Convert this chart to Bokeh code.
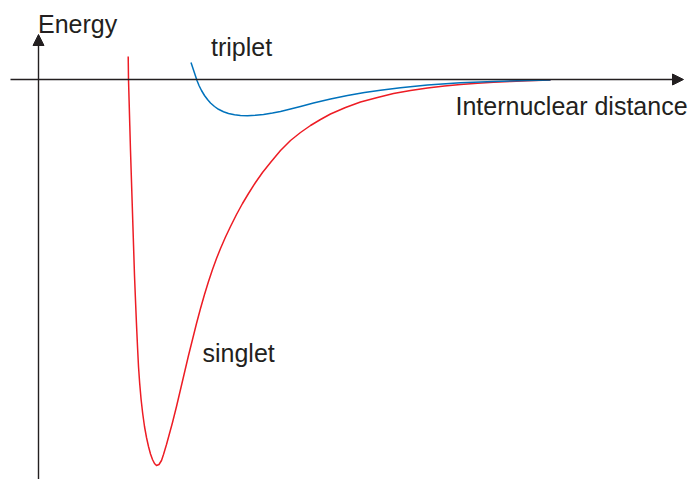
from bokeh.plotting import figure
from bokeh.models import Arrow, NormalHead, Range1d, Label
from bokeh.embed import file_html
from bokeh.resources import INLINE

# Potential energy curves, traced as (x, y) positions on the 691x479 sheet
singlet_px = [
    (127.7, 56), (128, 79), (128.6, 100), (129.3, 125), (130, 150), (130.8, 175),
    (131.6, 200), (132.4, 225), (133.2, 250), (134, 275), (135, 300), (136, 324),
    (137, 346), (138, 366), (139.2, 383), (140.6, 399), (142.2, 413), (144, 426),
    (146, 437), (148, 446), (150, 453.5), (152, 459), (154, 463), (156, 465),
    (158.5, 464), (161, 460), (163, 454), (166, 444), (169, 433), (172, 422),
    (176, 406), (180, 389), (184, 372), (188, 355), (192, 339), (196, 323),
    (200, 308), (204, 294), (208, 281), (212, 269), (216, 258), (220, 248),
    (225, 236.5), (230, 226), (236, 214), (242, 203), (248, 193), (255, 182),
    (262, 172), (270, 162), (280, 150), (290, 140), (300, 132), (310, 125),
    (320, 119), (330, 113.5), (345, 107), (360, 101.5), (377, 97), (393, 93),
    (410, 90), (427, 87.5), (444, 85.5), (460, 84), (477, 82.8), (493, 81.8),
    (510, 81), (527, 80.3), (550, 79.5),
]
triplet_px = [
    (190.5, 62), (192.5, 68), (194.5, 74), (196.5, 80), (198.5, 85), (201, 90),
    (204, 95), (207, 99), (210, 102.5), (214, 106), (218, 108.8), (223, 111.2),
    (228, 113), (234, 114.3), (240, 115), (247, 115.2), (255, 114.8), (263, 114),
    (272, 112.6), (280, 111), (290, 108.6), (300, 106), (313, 102.6), (330, 98.5),
    (347, 95), (364, 92), (380, 89.8), (400, 87.3), (427, 84.5), (460, 82.2),
    (493, 80.9), (527, 80), (550, 79.5),
]

X0, Y0 = 38, 79  # origin of the diagram
singlet_r = [x - X0 for x, _ in singlet_px]
singlet_e = [Y0 - y for _, y in singlet_px]
triplet_r = [x - X0 for x, _ in triplet_px]
triplet_e = [Y0 - y for _, y in triplet_px]

W, H = 691, 479
p = figure(width=W, height=H, output_backend="svg", toolbar_location=None,
           x_range=Range1d(-X0, W - X0), y_range=Range1d(Y0 - H, Y0),
           min_border=0, outline_line_color=None)
p.axis.visible = False
p.grid.visible = False
p.background_fill_color = "white"
p.border_fill_color = "white"

ink = "#231f20"

# axes with arrow heads
p.add_layout(Arrow(x_start=-28, y_start=0, x_end=645, y_end=0,
                   line_color=ink, line_width=1.4,
                   end=NormalHead(size=11, fill_color=ink, line_color=ink, line_width=1)))
p.add_layout(Arrow(x_start=0, y_start=Y0 - H - 2, x_end=0, y_end=45,
                   line_color=ink, line_width=1.4,
                   end=NormalHead(size=11, fill_color=ink, line_color=ink, line_width=1)))

p.line(singlet_r, singlet_e, line_color="#ed1c24", line_width=1.5, line_join="round")
p.line(triplet_r, triplet_e, line_color="#0072bc", line_width=1.5, line_join="round")

labels = [
    ("Energy", -0.5, 55.5),
    ("triplet", 172.5, 32.5),
    ("Internuclear distance", 417, -26.5),
    ("singlet", 164, -273),
]
for txt, lx, ly in labels:
    p.add_layout(Label(x=lx, y=ly, text=txt, text_font="Liberation Sans",
                       text_font_size="25px", text_color=ink,
                       text_baseline="alphabetic", text_align="left"))

open("out.html", "w").write(file_html(p, INLINE))
